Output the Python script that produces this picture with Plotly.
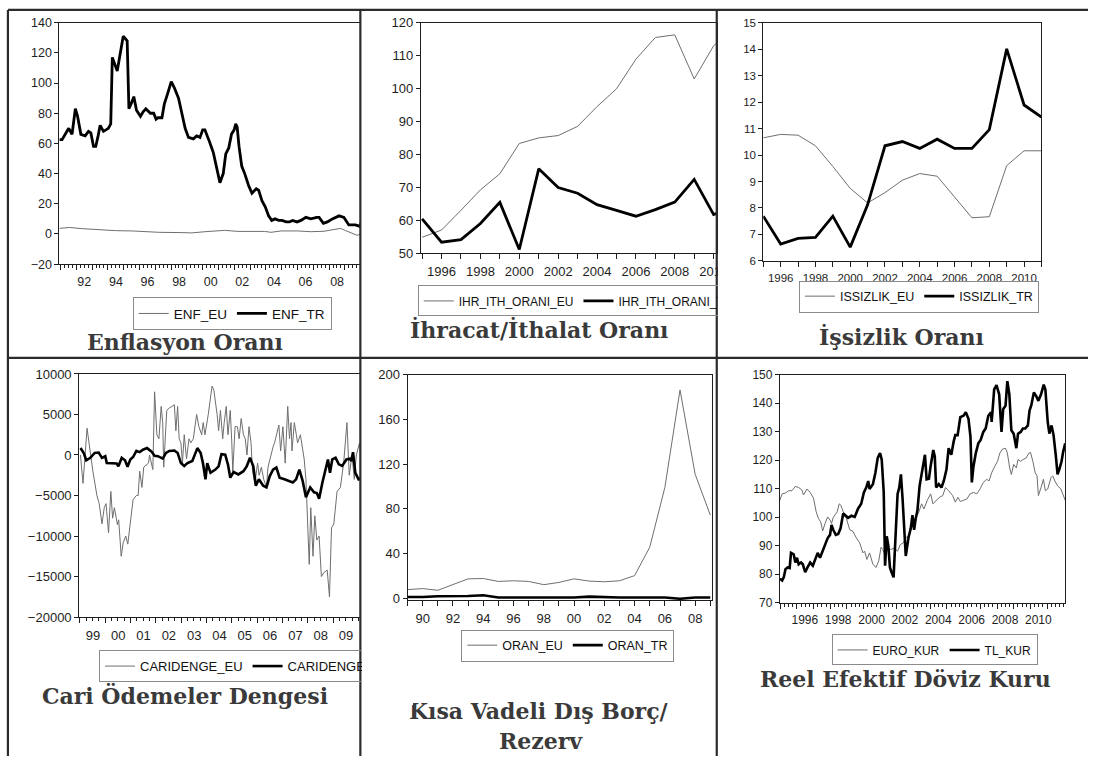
import plotly.graph_objects as go

W, H = 1099, 764

# ---------------- DATA ----------------
# Panel 1: Enflasyon Oranı (monthly, decimal years)
enf_eu_x = [1990.93, 1991.56, 1992.40, 1993.44, 1994.49, 1995.54, 1997.21, 1998.68, 1999.31, 2000.14,
            2001.40, 2002.24, 2003.91, 2004.33, 2004.96, 2006.01, 2006.85, 2007.68, 2008.52, 2008.73,
            2009.05, 2009.36, 2009.78, 2010.09]
enf_eu_y = [3.7, 4.3, 3.5, 2.8, 2.2, 2.0, 1.1, 0.9, 0.7, 1.5, 2.4, 1.7, 1.7, 1.1, 2.0, 2.0, 1.5, 1.8,
            3.3, 3.7, 2.2, 0.7, -0.9, 0.4]
enf_tr_x = [1990.93, 1991.10, 1991.52, 1991.73, 1991.94, 1992.08, 1992.29, 1992.56, 1992.77, 1992.92,
            1993.09, 1993.23, 1993.38, 1993.51, 1993.72, 1993.86, 1994.03, 1994.18, 1994.28, 1994.59,
            1994.80, 1994.97, 1995.22, 1995.33, 1995.50, 1995.64, 1995.81, 1996.06, 1996.23, 1996.40,
            1996.69, 1996.90, 1997.05, 1997.17, 1997.42, 1997.57, 1997.78, 1998.01, 1998.20, 1998.47,
            1998.68, 1998.89, 1999.10, 1999.41, 1999.62, 1999.83, 2000.00, 2000.14, 2000.40, 2000.67,
            2000.88, 2001.09, 2001.30, 2001.46, 2001.65, 2001.82, 2001.99, 2002.09, 2002.18, 2002.30,
            2002.47, 2002.66, 2002.91, 2003.12, 2003.39, 2003.54, 2003.75, 2003.96, 2004.17, 2004.37,
            2004.58, 2004.81, 2005.02, 2005.28, 2005.49, 2005.69, 2005.97, 2006.22, 2006.53, 2006.85,
            2007.22, 2007.37, 2007.64, 2007.89, 2008.21, 2008.63, 2008.94, 2009.25, 2009.67, 2009.95,
            2010.10]
enf_tr_y = [62.5, 62.5, 70, 66, 83, 78, 66, 65, 68, 67,
            58, 58, 65, 72, 68, 69, 70, 73, 117, 108,
            120, 131, 128, 83, 87, 91, 82, 78, 81, 83,
            80, 80, 76, 77, 77, 86, 93, 101, 97, 90,
            80, 70, 64, 63, 65, 64, 69, 69, 62, 54,
            44, 34, 40, 53, 57, 66, 69, 73, 71, 58,
            45, 40, 32, 27, 30, 29, 22, 18, 12, 9,
            10, 9, 9, 8, 8, 9, 8, 9, 11, 10,
            11, 11, 7, 8, 10, 12, 11, 6, 6, 5,
            10]
enf_tick_years = list(range(1991, 2010))
enf_tick_text = ["", "92", "", "94", "", "96", "", "98", "", "00", "", "02", "", "04", "", "06", "", "08", ""]

# Panel 2: İhracat/İthalat Oranı (annual)
ihr_years = list(range(1995, 2012))
ihr_eu = [54.8, 57.0, 63.0, 69.2, 74.1, 83.3, 85.0, 85.7, 88.5, 94.5, 99.9, 108.9, 115.5, 116.3, 102.9, 113.0, 118.0]
ihr_tr = [60.4, 53.3, 54.1, 59.0, 65.4, 51.1, 75.6, 69.9, 68.2, 64.7, 63.0, 61.2, 63.2, 65.5, 72.4, 61.7, 64.0]
ihr_tick_text = ["", "1996", "", "1998", "", "2000", "", "2002", "", "2004", "", "2006", "", "2008", "", "2010", ""]

# Panel 3: İşsizlik Oranı (annual)
iss_years = list(range(1995, 2012))
iss_eu = [10.65, 10.78, 10.75, 10.35, 9.57, 8.74, 8.19, 8.58, 9.05, 9.3, 9.2, 8.43, 7.63, 7.67, 9.6, 10.16, 10.16]
iss_tr = [7.69, 6.64, 6.85, 6.89, 7.69, 6.52, 8.12, 10.35, 10.51, 10.25, 10.6, 10.25, 10.25, 10.96, 14.01, 11.89, 11.43]
iss_tick_text = ["", "1996", "", "1998", "", "2000", "", "2002", "", "2004", "", "2006", "", "2008", "", "2010", ""]

# Panel 4: Cari Ödemeler Dengesi (monthly)
cari_eu_x = [1999.02, 1999.12, 1999.28, 1999.41, 1999.51, 1999.67, 1999.76, 1999.87, 1999.96, 2000.03,
             2000.13, 2000.22, 2000.29, 2000.36, 2000.41, 2000.48, 2000.53, 2000.58, 2000.63, 2000.71,
             2000.81, 2000.89, 2000.99, 2001.10, 2001.23, 2001.30, 2001.36, 2001.45, 2001.52, 2001.62,
             2001.71, 2001.75, 2001.88, 2001.95, 2002.04, 2002.12, 2002.21, 2002.27, 2002.31, 2002.43,
             2002.53, 2002.64, 2002.73, 2002.79, 2002.86, 2002.92, 2002.99, 2003.05, 2003.12, 2003.21,
             2003.31, 2003.38, 2003.48, 2003.61, 2003.70, 2003.81, 2003.87, 2003.94, 2004.07, 2004.22,
             2004.29, 2004.42, 2004.48, 2004.55, 2004.64, 2004.70, 2004.78, 2004.85, 2004.94, 2005.00,
             2005.04, 2005.13, 2005.22, 2005.29, 2005.37, 2005.46, 2005.53, 2005.60, 2005.68, 2005.76,
             2005.82, 2005.91, 2006.02, 2006.08, 2006.17, 2006.26, 2006.37, 2006.43, 2006.50, 2006.63,
             2006.69, 2006.86, 2006.93, 2007.02, 2007.11, 2007.21, 2007.28, 2007.34, 2007.38, 2007.47,
             2007.55, 2007.60, 2007.71, 2007.80, 2007.86, 2007.93, 2007.99, 2008.06, 2008.12, 2008.21,
             2008.28, 2008.36, 2008.45, 2008.54, 2008.64, 2008.77, 2008.86, 2008.94, 2009.03, 2009.10,
             2009.16, 2009.29, 2009.42, 2009.55, 2009.64, 2009.75, 2009.84, 2009.92, 2010.05, 2010.18]
cari_eu_y = [0, -3500, 3300, 0, -2000, -5000, -6000, -8500, -6500, -6000,
             -9600, -4500, -7800, -6500, -7200, -8600, -8000, -10500, -12500, -10800,
             -10000, -11000, -8000, -5500, -5000, -5000, -2000, -4000, -1500, -1200,
             -1000, 0, -1800, 7800, 2500, 2000, 6000, 4000, -1500, 5500,
             5800, 6000, 6200, 3000, 6000, 2000, 1500, -1000, 2500, -500,
             2000, 1500, 2000, 5000, 3500, 2500, 4000, 2500, 5000, 8500,
             8000, 5000, 3000, 5500, 2000, 4000, 6000, 2500, 5500, 1500,
             -2000, 3500, 3500, 2000, 4500, 2500, 2000, 0, 3500, 1500,
             -2000, -3500, -1000, -2500, -1500, -3000, -4000, -1500, -500, 1000,
             1500, 3700, 500, 3500, -1000, 6000, 2000, 4000, 500, 4000,
             2500, 1500, 2500, 1000, -500, -3000, -9000, -13500, -6500, -12500,
             -7500, -10500, -10000, -15000, -14500, -14200, -17500, -9000, -8500, -6000,
             -4500, -4000, -1000, 4000, -2500, 0, -3000, 0, 1500, -4000]
cari_tr_x = [1999.02, 1999.15, 1999.25, 1999.41, 1999.58, 1999.74, 1999.87, 2000.00, 2000.06, 2000.26,
             2000.45, 2000.52, 2000.65, 2000.78, 2000.88, 2000.99, 2001.10, 2001.23, 2001.36, 2001.49,
             2001.65, 2001.82, 2001.95, 2002.08, 2002.27, 2002.40, 2002.53, 2002.73, 2002.86, 2002.99,
             2003.12, 2003.25, 2003.44, 2003.64, 2003.77, 2003.86, 2003.96, 2004.03, 2004.16, 2004.35,
             2004.48, 2004.59, 2004.74, 2004.85, 2004.94, 2005.07, 2005.26, 2005.46, 2005.59, 2005.72,
             2005.85, 2005.95, 2006.07, 2006.24, 2006.37, 2006.50, 2006.63, 2006.76, 2006.89, 2007.08,
             2007.28, 2007.41, 2007.54, 2007.67, 2007.80, 2007.93, 2008.10, 2008.25, 2008.36, 2008.45,
             2008.58, 2008.71, 2008.80, 2008.88, 2008.97, 2009.10, 2009.23, 2009.36, 2009.53, 2009.66,
             2009.72, 2009.79, 2009.88, 2010.01, 2010.10, 2010.18]
cari_tr_y = [850, 250, -650, -350, 250, 300, -350, -150, -1000, -1000,
             -1050, -1400, -350, -650, -1450, -550, -250, 500, 350, 650,
             850, 450, -100, -150, -450, 250, 500, 550, 250, -1000,
             -1350, -1000, -750, 850, 250, -1000, -3000, -1000, -2200, -1800,
             -1400, 100, 50, -1200, -2800, -2100, -2400, -2000, -1400, -350,
             -1400, -3800, -3000, -3800, -4000, -2600, -1800, -1550, -2800, -3000,
             -3200, -3400, -3000, -1800, -3200, -5200, -4000, -4600, -4700, -5400,
             -3400, -1800, -550, -2200, -550, -350, -1150, -1350, -550, -450,
             -750, 350, -2200, -3000, -2900, -4000]
cari_tick_years = list(range(1999, 2010))
cari_tick_text = ["99", "00", "01", "02", "03", "04", "05", "06", "07", "08", "09"]

# Panel 5: Kısa Vadeli Dış Borç / Rezerv (annual)
oran_years = list(range(1989, 2010))
oran_eu = [7.9, 8.8, 7.3, 12.6, 17.5, 17.8, 15.2, 15.8, 15.2, 12.3, 14.3, 17.5, 15.5, 14.9, 15.8, 20.4,
           45.8, 99.3, 186.3, 111.0, 74.5]
oran_tr = [1.3, 1.3, 2.0, 2.0, 2.2, 2.8, 0.9, 0.8, 0.8, 0.8, 0.8, 0.9, 1.6, 0.9, 0.8, 0.8,
           0.8, 0.9, -0.3, 0.9, 0.9]
oran_tick_text = ["", "90", "", "92", "", "94", "", "96", "", "98", "", "00", "", "02", "", "04", "",
                  "06", "", "08", ""]

# Panel 6: Reel Efektif Döviz Kuru (monthly)
tl_x = [1994.98, 1995.12, 1995.22, 1995.32, 1995.45, 1995.57, 1995.65, 1995.81, 1995.91, 1996.01,
        1996.11, 1996.25, 1996.36, 1996.50, 1996.64, 1996.80, 1996.96, 1997.10, 1997.25, 1997.39,
        1997.55, 1997.69, 1997.85, 1997.99, 1998.08, 1998.18, 1998.34, 1998.48, 1998.62, 1998.78,
        1998.92, 1999.07, 1999.27, 1999.47, 1999.67, 1999.86, 2000.02, 2000.16, 2000.28, 2000.36,
        2000.56, 2000.71, 2000.85, 2000.99, 2001.09, 2001.21, 2001.29, 2001.39, 2001.49, 2001.58,
        2001.68, 2001.80, 2001.94, 2002.04, 2002.14, 2002.24, 2002.34, 2002.44, 2002.53, 2002.69,
        2002.83, 2002.93, 2003.03, 2003.13, 2003.23, 2003.36, 2003.52, 2003.68, 2003.78, 2003.92,
        2004.02, 2004.18, 2004.27, 2004.35, 2004.51, 2004.67, 2004.81, 2004.97, 2005.10, 2005.26,
        2005.40, 2005.50, 2005.64, 2005.80, 2005.99, 2006.13, 2006.29, 2006.41, 2006.49, 2006.59,
        2006.73, 2006.88, 2007.02, 2007.18, 2007.32, 2007.48, 2007.64, 2007.68, 2007.83, 2007.97,
        2008.13, 2008.27, 2008.37, 2008.51, 2008.62, 2008.74, 2008.86, 2009.00, 2009.16, 2009.26,
        2009.42, 2009.55, 2009.69, 2009.85, 2009.95, 2010.05, 2010.21, 2010.35, 2010.48, 2010.64,
        2010.80, 2010.90, 2011.04, 2011.14, 2011.27, 2011.39, 2011.53, 2011.63, 2011.73, 2011.87,
        2011.97, 2012.09]
tl_y = [78.4, 77.8, 79.0, 81.8, 82.4, 82.2, 87.5, 87.0, 84.1, 85.8,
        83.5, 84.1, 83.5, 80.7, 82.4, 84.1, 83.0, 85.2, 87.5, 85.8,
        88.1, 89.8, 92.7, 93.8, 97.3, 95.6, 93.8, 94.1, 96.1, 101.3,
        100.7, 99.8, 100.5, 100.1, 103.0, 104.7, 108.7, 110.4, 112.7, 109.9,
        111.6, 115.6, 120.8, 122.5, 120.2, 108.7, 83.0, 93.3, 89.8, 82.4,
        80.7, 78.9, 96.1, 108.2, 110.4, 115.0, 106.4, 93.8, 86.4, 92.7,
        96.1, 100.7, 95.6, 99.6, 102.4, 111.0, 116.7, 121.9, 113.3, 113.5,
        117.9, 123.6, 121.3, 110.4, 111.6, 110.4, 112.7, 116.7, 124.2, 121.9,
        126.5, 128.8, 128.8, 135.1, 135.6, 136.8, 134.5, 128.2, 112.2, 117.9,
        122.5, 125.9, 127.1, 129.9, 131.1, 135.6, 136.8, 133.4, 144.8, 146.3,
        143.1, 129.9, 137.9, 139.1, 147.7, 143.1, 130.5, 129.3, 124.2, 129.3,
        129.9, 131.1, 131.1, 132.2, 137.4, 139.1, 143.7, 142.5, 140.8, 143.1,
        146.5, 144.8, 133.4, 129.3, 132.2, 128.8, 121.3, 115.0, 116.7, 119.6,
        123.0, 125.9]
euro_x = [1994.98, 1995.12, 1995.32, 1995.51, 1995.71, 1995.91, 1996.11, 1996.30, 1996.40, 1996.60,
          1996.80, 1997.00, 1997.16, 1997.29, 1997.43, 1997.55, 1997.69, 1997.85, 1997.99, 1998.08,
          1998.18, 1998.28, 1998.42, 1998.54, 1998.64, 1998.78, 1998.97, 1999.17, 1999.37, 1999.57,
          1999.77, 1999.96, 2000.06, 2000.20, 2000.36, 2000.56, 2000.75, 2000.91, 2001.05, 2001.15,
          2001.31, 2001.45, 2001.64, 2001.84, 2002.04, 2002.20, 2002.38, 2002.53, 2002.73, 2002.93,
          2003.13, 2003.32, 2003.48, 2003.62, 2003.82, 2004.02, 2004.16, 2004.35, 2004.55, 2004.75,
          2004.91, 2005.10, 2005.34, 2005.50, 2005.66, 2005.80, 2005.99, 2006.19, 2006.39, 2006.59,
          2006.79, 2006.98, 2007.18, 2007.38, 2007.52, 2007.68, 2007.87, 2008.03, 2008.17, 2008.31,
          2008.51, 2008.62, 2008.76, 2008.86, 2009.00, 2009.16, 2009.26, 2009.42, 2009.55, 2009.75,
          2009.91, 2010.01, 2010.15, 2010.29, 2010.40, 2010.48, 2010.64, 2010.78, 2010.90, 2011.04,
          2011.24, 2011.34, 2011.47, 2011.63, 2011.83, 2011.99, 2012.09]
euro_y = [105.9, 108.2, 108.5, 109.3, 109.3, 110.8, 110.4, 109.6, 107.8, 109.9,
          108.7, 106.7, 101.9, 99.6, 98.4, 95.2, 97.8, 100.1, 99.0, 97.8,
          99.9, 100.7, 101.9, 104.7, 104.2, 101.9, 99.6, 95.6, 95.0, 92.7,
          91.0, 87.5, 88.1, 85.2, 87.5, 83.5, 82.4, 84.7, 89.5, 88.7,
          86.4, 89.2, 88.7, 89.2, 88.1, 90.4, 91.0, 92.7, 93.8, 97.3,
          99.6, 101.9, 104.7, 102.9, 105.9, 108.2, 104.7, 105.9, 107.0, 107.6,
          110.4, 109.3, 107.6, 105.3, 107.0, 105.5, 105.9, 106.4, 108.2, 108.7,
          108.2, 109.9, 112.2, 113.3, 112.7, 115.6, 117.9, 119.6, 122.5, 123.8,
          124.2, 122.5, 117.3, 115.0, 118.5, 117.3, 120.2, 119.6, 120.2, 120.8,
          122.5, 122.7, 119.6, 115.6, 114.5, 107.6, 110.4, 113.3, 109.3, 109.9,
          113.9, 114.5, 112.7, 111.0, 109.9, 107.0, 105.9]
kur_tick_years = list(range(1995, 2012))
kur_tick_text = ["", "1996", "", "1998", "", "2000", "", "2002", "", "2004", "", "2006", "", "2008", "",
                 "2010", ""]

# ---------------- LAYOUT HELPERS ----------------
def pxx(x):
    return x / W

def pyy(y):
    return 1 - y / H

AX = "#1e1e1e"
EU_C = "#6e6e6e"
TR_C = "#000000"
FAM = "Liberation Sans, Arial, sans-serif"
TITLEFONT = dict(family="DejaVu Serif, serif", size=22, color="#3a3a3a")

fig = go.Figure()

# panel geometry in pixels: (x0, x1, ytop, ybottom)
geo = {
    1: (60, 364, 16, 262.3),
    2: (425, 724, 16, 251),
    3: (771, 1052, 16, 259),
    4: (80, 364, 374.3, 622.3),
    5: (411.7, 719, 375, 605),
    6: (787.7, 1076, 375, 607.7),
}
xranges = {1: [1990.93, 2009.98], 2: [1994.93, 2010.16], 3: [1995, 2011],
           4: [1998.97, 2010.08], 5: [1989, 2009.1], 6: [1994.98, 2012.09]}
yranges = {1: [-20, 140], 2: [50, 120], 3: [6, 15], 4: [-20000, 10000], 5: [-1.5, 200], 6: [70, 150]}
ydticks = {1: 20, 2: 10, 3: 1, 4: 5000, 5: 40, 6: 10}
tickfs = {1: 12.5, 2: 13, 3: 11.5, 4: 13, 5: 13, 6: 12}
legfs = {1: 13.5, 2: 12, 3: 12.5, 4: 13, 5: 12.5, 6: 12}


def add_pair(n, eu_x, eu_y, tr_x, tr_y, eu_name, tr_name, trw=2.6):
    suffix = "" if n == 1 else str(n)
    leg = "legend" if n == 1 else "legend" + str(n)
    fig.add_trace(go.Scatter(x=eu_x, y=eu_y, mode="lines", name=eu_name,
                             line=dict(color=EU_C, width=1), xaxis="x" + suffix, yaxis="y" + suffix,
                             legend=leg))
    fig.add_trace(go.Scatter(x=tr_x, y=tr_y, mode="lines", name=tr_name,
                             line=dict(color=TR_C, width=trw), xaxis="x" + suffix, yaxis="y" + suffix,
                             legend=leg))


add_pair(1, enf_eu_x, enf_eu_y, enf_tr_x, enf_tr_y, "ENF_EU", "ENF_TR", 2.8)
add_pair(2, ihr_years, ihr_eu, ihr_years, ihr_tr, "IHR_ITH_ORANI_EU", "IHR_ITH_ORANI_TR", 2.8)
add_pair(3, iss_years, iss_eu, iss_years, iss_tr, "ISSIZLIK_EU", "ISSIZLIK_TR", 2.8)
add_pair(4, cari_eu_x, cari_eu_y, cari_tr_x, cari_tr_y, "CARIDENGE_EU", "CARIDENGE_TR", 2.6)
add_pair(5, oran_years, oran_eu, oran_years, oran_tr, "ORAN_EU", "ORAN_TR", 2.6)
add_pair(6, euro_x, euro_y, tl_x, tl_y, "EURO_KUR", "TL_KUR", 2.6)

xticks = {
    1: (enf_tick_years, enf_tick_text, True, 0.25),
    2: (ihr_years, ihr_tick_text, False, None),
    3: (iss_years, iss_tick_text, False, None),
    4: (cari_tick_years, cari_tick_text, True, 0.25),
    5: (oran_years, oran_tick_text, False, None),
    6: (kur_tick_years, kur_tick_text, True, 0.25),
}

layout = dict(width=W, height=H, margin=dict(l=0, r=0, t=0, b=0), paper_bgcolor="white",
              plot_bgcolor="white", showlegend=True)

for n in range(1, 7):
    x0, x1, yt, yb = geo[n]
    suffix = "" if n == 1 else str(n)
    tv, tt, monthly, mdt = xticks[n]
    xr = xranges[n]
    pxyr = (x1 - x0) / (xr[1] - xr[0])
    tf = dict(family=FAM, size=tickfs[n], color="#1e1e1e")
    xa = dict(domain=[pxx(x0), pxx(x1)], range=xr, anchor="y" + suffix,
              tickmode="array", tickvals=tv, ticktext=tt, ticks="outside", ticklen=5, tickwidth=1,
              tickcolor=AX, showline=True, mirror=True, linecolor=AX, linewidth=1, showgrid=False,
              zeroline=False, tickfont=tf, ticklabelstandoff=1)
    if monthly:
        xa["ticklabelshift"] = int(round(pxyr / 2.0))
        xa["minor"] = dict(tickmode="linear", tick0=1990, dtick=mdt, ticks="outside", ticklen=3,
                           tickwidth=1, tickcolor=AX, showgrid=False)
    ya = dict(domain=[pyy(yb), pyy(yt)], range=yranges[n], anchor="x" + suffix,
              tickmode="linear", tick0=0, dtick=ydticks[n], ticks="outside", ticklen=4, tickwidth=1,
              tickcolor=AX, showline=True, mirror=True, linecolor=AX, linewidth=1, showgrid=False,
              zeroline=False, tickfont=tf, tickformat="d")
    layout["xaxis" + suffix] = xa
    layout["yaxis" + suffix] = ya

# legends (top-left corners in px)
legpos = {1: (134, 296), 2: (422, 284), 3: (807, 279), 4: (100, 656), 5: (466, 635), 6: (840, 640)}
for n, (lx, ly) in legpos.items():
    key = "legend" if n == 1 else "legend" + str(n)
    layout[key] = dict(x=pxx(lx), y=pyy(ly), xanchor="left", yanchor="top", orientation="h",
                       font=dict(family=FAM, size=legfs[n], color="#111111"),
                       bordercolor="#8a8a8a", borderwidth=1,
                       bgcolor="rgba(0,0,0,0)", itemwidth=30, tracegroupgap=0,
                       itemclick=False)

# white button masks (menu layer sits above legends) to clip content at the table dividers
def mask(x0, ytop, nch, nlines, fsize):
    lab = "<br>".join(["\u00a0" * nch] * nlines)
    return dict(type="buttons", direction="right", x=pxx(x0), y=pyy(ytop), xanchor="left",
                yanchor="top", pad=dict(t=0, b=0, l=0, r=0), bgcolor="white", bordercolor="white",
                borderwidth=0, showactive=False, active=-1,
                font=dict(family=FAM, size=fsize, color="white"),
                buttons=[dict(label=lab, method="skip", args=[None])])

layout["updatemenus"] = [mask(725.6, 252, 1, 4, 12), mask(365.6, 646, 8, 4, 12)]

fig.update_layout(**layout)

# panel titles
titles = [
    ("Enflasyon Oranı", 187, 342),
    ("İhracat/İthalat Oranı", 544, 329),
    ("İşsizlik Oranı", 911, 336),
    ("Cari Ödemeler Dengesi", 187, 702),
    ("Kısa Vadeli Dış Borç/", 544, 718),
    ("Rezerv", 546, 749),
    ("Reel Efektif Döviz Kuru", 915, 685),
]
for t, cx, cy in titles:
    fig.add_annotation(text="<b>" + t + "</b>", x=pxx(cx), y=pyy(cy), xref="paper", yref="paper",
                       xanchor="center", yanchor="middle", showarrow=False, font=TITLEFONT)

# table borders
LC = "#2b2b2b"
for (x0, y0, x1, y1) in [(8, 3, 1099, 3), (8, 3, 8, 764), (364, 3, 364, 764), (724, 3, 724, 764),
                         (8, 358, 1099, 358)]:
    fig.add_shape(type="line", xref="paper", yref="paper", x0=pxx(x0), y0=pyy(y0), x1=pxx(x1),
                  y1=pyy(y1), line=dict(color=LC, width=2.2), layer="above")

fig.write_html("out.html", config={"displayModeBar": False})
